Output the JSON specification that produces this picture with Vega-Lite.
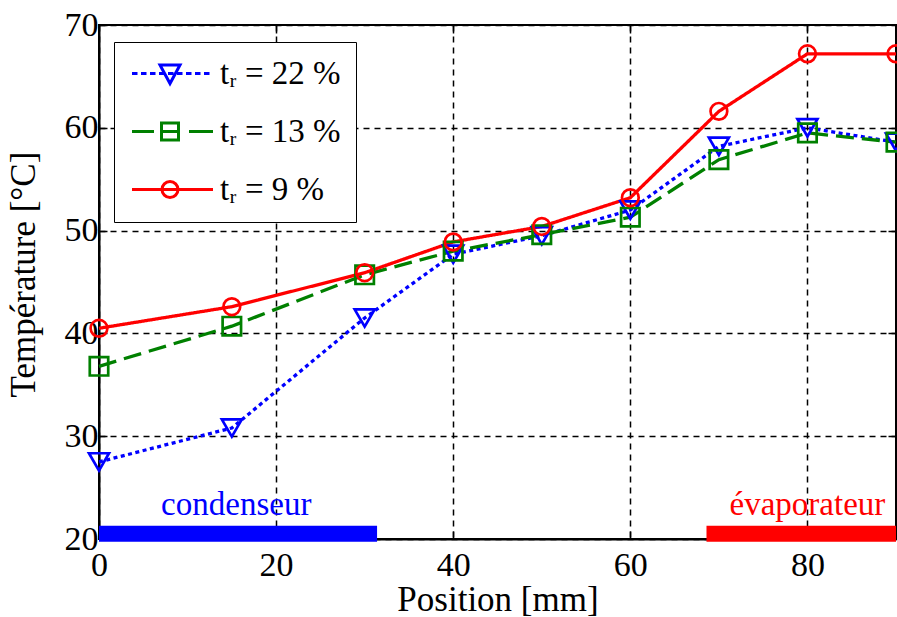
{
  "$schema": "https://vega.github.io/schema/vega-lite/v6.json",
  "width": 797,
  "height": 514,
  "autosize": {"type": "none"},
  "padding": {"left": 99, "top": 25, "right": 1, "bottom": 78},
  "background": "white",
  "datasets": {
    "temps": [
      {"pos": 0, "temp": 27.5, "series": "tᵣ = 22 %"},
      {"pos": 15, "temp": 30.8, "series": "tᵣ = 22 %"},
      {"pos": 30, "temp": 41.5, "series": "tᵣ = 22 %"},
      {"pos": 40, "temp": 47.7, "series": "tᵣ = 22 %"},
      {"pos": 50, "temp": 49.5, "series": "tᵣ = 22 %"},
      {"pos": 60, "temp": 52.0, "series": "tᵣ = 22 %"},
      {"pos": 70, "temp": 58.2, "series": "tᵣ = 22 %"},
      {"pos": 80, "temp": 60.0, "series": "tᵣ = 22 %"},
      {"pos": 90, "temp": 58.6, "series": "tᵣ = 22 %"},
      {"pos": 0, "temp": 36.8, "series": "tᵣ = 13 %"},
      {"pos": 15, "temp": 40.7, "series": "tᵣ = 13 %"},
      {"pos": 30, "temp": 45.7, "series": "tᵣ = 13 %"},
      {"pos": 40, "temp": 48.0, "series": "tᵣ = 13 %"},
      {"pos": 50, "temp": 49.6, "series": "tᵣ = 13 %"},
      {"pos": 60, "temp": 51.3, "series": "tᵣ = 13 %"},
      {"pos": 70, "temp": 56.9, "series": "tᵣ = 13 %"},
      {"pos": 80, "temp": 59.5, "series": "tᵣ = 13 %"},
      {"pos": 90, "temp": 58.6, "series": "tᵣ = 13 %"},
      {"pos": 0, "temp": 40.5, "series": "tᵣ = 9 %"},
      {"pos": 15, "temp": 42.6, "series": "tᵣ = 9 %"},
      {"pos": 30, "temp": 45.9, "series": "tᵣ = 9 %"},
      {"pos": 40, "temp": 48.9, "series": "tᵣ = 9 %"},
      {"pos": 50, "temp": 50.4, "series": "tᵣ = 9 %"},
      {"pos": 60, "temp": 53.2, "series": "tᵣ = 9 %"},
      {"pos": 70, "temp": 61.6, "series": "tᵣ = 9 %"},
      {"pos": 80, "temp": 67.2, "series": "tᵣ = 9 %"},
      {"pos": 90, "temp": 67.2, "series": "tᵣ = 9 %"}
    ],
    "zones": [
      {"zone": "condenseur", "start": 0, "end": 31.4, "label_x": 15.5},
      {"zone": "évaporateur", "start": 68.6, "end": 90, "label_x": 80}
    ]
  },
  "resolve": {
    "scale": {"color": "independent", "shape": "independent", "size": "independent", "strokeDash": "independent"},
    "axis": {"x": "independent", "y": "independent"}
  },
  "layer": [
    {
      "data": {"name": "temps"},
      "mark": {"type": "line", "strokeWidth": 3.3},
      "encoding": {
        "x": {"field": "pos", "type": "quantitative", "title": "Position [mm]", "scale": {"domain": [0, 90], "nice": false, "zero": false},
              "axis": {"values": [0, 20, 40, 60, 80], "title": "Position [mm]", "labelPadding": 17, "titlePadding": 0, "labelFlush": false}},
        "y": {"field": "temp", "type": "quantitative", "title": "Température [°C]", "scale": {"domain": [20, 70], "nice": false, "zero": false},
              "axis": {"values": [20, 30, 40, 50, 60, 70], "title": "Température [°C]", "labelPadding": 9, "titlePadding": 23, "titleY": 249, "labelFlush": false}},
        "color": {"field": "series", "type": "nominal", "legend": null,
                  "scale": {"domain": ["tᵣ = 22 %", "tᵣ = 13 %", "tᵣ = 9 %"], "range": ["#0000ff", "#008000", "#ff0000"]}},
        "strokeDash": {"field": "series", "type": "nominal", "legend": null,
                  "scale": {"domain": ["tᵣ = 22 %", "tᵣ = 13 %", "tᵣ = 9 %"], "range": [[4, 3.5], [18, 8], [1, 0]]}}
      }
    },
    {
      "data": {"name": "temps"},
      "mark": {"type": "point", "filled": false, "strokeWidth": 2.7, "opacity": 1},
      "encoding": {
        "x": {"field": "pos", "type": "quantitative", "axis": {"orient": "top", "values": [20, 40, 60, 80], "labels": false, "grid": false, "domain": false, "title": null}},
        "y": {"field": "temp", "type": "quantitative", "axis": {"orient": "right", "values": [30, 40, 50, 60], "labels": false, "grid": false, "domain": false, "title": null}},
        "color": {"field": "series", "type": "nominal", "legend": null,
                  "scale": {"domain": ["tᵣ = 22 %", "tᵣ = 13 %", "tᵣ = 9 %"], "range": ["#0000ff", "#008000", "#ff0000"]}},
        "shape": {"field": "series", "type": "nominal", "legend": null,
                  "scale": {"domain": ["tᵣ = 22 %", "tᵣ = 13 %", "tᵣ = 9 %"], "range": ["triangle-down", "square", "circle"]}},
        "size": {"field": "series", "type": "nominal", "legend": null,
                  "scale": {"domain": ["tᵣ = 22 %", "tᵣ = 13 %", "tᵣ = 9 %"], "range": [400, 280, 240]}}
      }
    },
    {
      "data": {"name": "temps"},
      "mark": {"type": "point", "filled": false, "opacity": 0, "strokeWidth": 3},
      "encoding": {
        "x": {"field": "pos", "type": "quantitative", "axis": null},
        "y": {"field": "temp", "type": "quantitative", "axis": null},
        "color": {"field": "series", "type": "nominal",
                  "scale": {"domain": ["tᵣ = 22 %", "tᵣ = 13 %", "tᵣ = 9 %"], "range": ["#0000ff", "#008000", "#ff0000"]},
                  "legend": {"title": null, "orient": "none", "legendX": 15, "legendY": 17,
                             "strokeColor": "black", "fillColor": "white", "padding": 15, "rowPadding": 24,
                             "labelOffset": 58, "symbolOffset": 0, "symbolSize": 400, "symbolStrokeWidth": 3,
                             "symbolOpacity": 1, "labelFont": "Liberation Serif", "labelFontSize": 33,
                             "labelColor": "black", "labelLimit": 300,
                             "encode": {"legend": {"update": {"strokeWidth": {"value": 2}}}}}},
        "shape": {"field": "series", "type": "nominal",
                  "scale": {"domain": ["tᵣ = 22 %", "tᵣ = 13 %", "tᵣ = 9 %"],
                            "range": [
                              "M-1.35,0H-0.8M-0.45,0H0.1M0.45,0H1.0M1.35,0H1.9M2.25,0H2.8M3.15,0H3.7M4.05,0H4.6M4.95,0H5.5M5.85,0H6.4M1.45,-0.85L3.45,-0.85L2.45,1.0Z",
                              "M-1.35,0H0.85M1.6,0H3.3M4.35,0H6.75M1.6,-0.85H3.3V0.85H1.6Z",
                              "M-1.35,0H6.75M3.25,0A0.8,0.8,0,1,1,1.65,0A0.8,0.8,0,1,1,3.25,0Z"
                            ]},
                  "legend": {"title": null, "orient": "none", "legendX": 15, "legendY": 17,
                             "strokeColor": "black", "fillColor": "white", "padding": 15, "rowPadding": 24,
                             "labelOffset": 58, "symbolOffset": 0, "symbolSize": 400, "symbolStrokeWidth": 3,
                             "symbolOpacity": 1, "labelFont": "Liberation Serif", "labelFontSize": 33,
                             "labelColor": "black", "labelLimit": 300,
                             "encode": {"legend": {"update": {"strokeWidth": {"value": 2}}}}}}
      }
    },
    {
      "data": {"name": "zones"},
      "mark": {"type": "rule", "strokeWidth": 16, "strokeCap": "butt"},
      "encoding": {
        "x": {"field": "start", "type": "quantitative", "axis": null},
        "x2": {"field": "end"},
        "y": {"datum": 20.5, "type": "quantitative", "axis": null},
        "color": {"field": "zone", "type": "nominal", "legend": null,
                  "scale": {"domain": ["condenseur", "évaporateur"], "range": ["#0000ff", "#ff0000"]}}
      }
    },
    {
      "data": {"name": "zones"},
      "mark": {"type": "text", "font": "Liberation Serif", "fontSize": 33, "baseline": "alphabetic", "align": "center"},
      "encoding": {
        "x": {"field": "label_x", "type": "quantitative", "axis": null},
        "y": {"datum": 22.33, "type": "quantitative", "axis": null},
        "text": {"field": "zone"},
        "color": {"field": "zone", "type": "nominal", "legend": null,
                  "scale": {"domain": ["condenseur", "évaporateur"], "range": ["#0000ff", "#ff0000"]}}
      }
    }
  ],
  "config": {
    "view": {"stroke": "black", "strokeWidth": 2},
    "axis": {
      "grid": true, "gridColor": "black", "gridDash": [6, 5], "gridWidth": 1.5, "gridOpacity": 1,
      "domainColor": "black", "domainWidth": 2,
      "tickColor": "black", "tickSize": -8, "tickWidth": 1.5,
      "labelFont": "Liberation Serif", "labelFontSize": 34, "labelColor": "black",
      "titleFont": "Liberation Serif", "titleFontSize": 35, "titleFontWeight": "normal", "titleColor": "black"
    }
  }
}
